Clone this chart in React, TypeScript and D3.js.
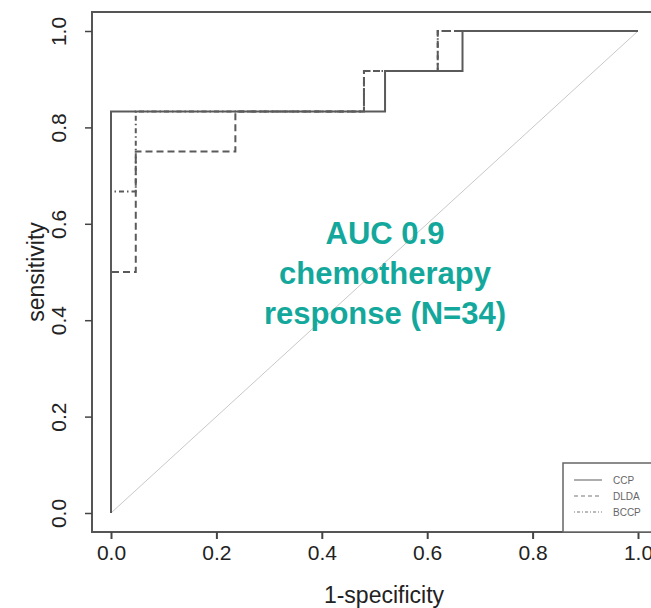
import React, { useEffect, useRef } from 'react';
import * as d3 from 'd3';

// ROC curves, [fpr, tpr] step points
const ccpPoints: [number, number][] = [
  [0, 0], [0, 0.833], [0.52, 0.833], [0.52, 0.917], [0.667, 0.917], [0.667, 1], [1, 1],
];
const dldaPoints: [number, number][] = [
  [0, 0], [0, 0.5], [0.047, 0.5], [0.047, 0.75], [0.236, 0.75], [0.236, 0.833],
  [0.48, 0.833], [0.48, 0.917], [0.62, 0.917], [0.62, 1], [1, 1],
];
const bccpPoints: [number, number][] = [
  [0, 0], [0, 0.667], [0.047, 0.667], [0.047, 0.833], [0.48, 0.833], [0.48, 0.917],
  [0.62, 0.917], [0.62, 1], [1, 1],
];
const seriesNames = ['CCP', 'DLDA', 'BCCP'];
const tickValues = [0, 0.2, 0.4, 0.6, 0.8, 1.0];
const annotation = ['AUC 0.9', 'chemotherapy', 'response (N=34)'];

export default function App() {
  const ref = useRef<SVGSVGElement>(null);

  useEffect(() => {
    document.body.style.margin = '0';
    if (!ref.current) return;
    const svg = d3.select(ref.current);
    svg.selectAll('*').remove();

    const font = "'Liberation Sans', Arial, sans-serif";
    const x = d3.scaleLinear().domain([0, 1]).range([111, 638]);
    const y = d3.scaleLinear().domain([0, 1]).range([513, 31]);
    const box = { left: 92, top: 12, right: 660, bottom: 532 };

    // diagonal
    svg.append('line')
      .attr('x1', x(0)).attr('y1', y(0)).attr('x2', x(1)).attr('y2', y(1))
      .attr('stroke', '#c8c8c8').attr('stroke-width', 1);

    // annotation
    annotation.forEach((t, i) => {
      svg.append('text')
        .attr('x', 385)
        .attr('y', 244 + i * 40)
        .attr('text-anchor', 'middle')
        .attr('fill', '#13a89b')
        .attr('font-family', font)
        .attr('font-weight', 'bold')
        .attr('font-size', '31px')
        .text(t);
    });

    const line = d3.line<[number, number]>().x(d => x(d[0])).y(d => y(d[1]));
    const styles = [
      { data: ccpPoints, dash: null },
      { data: dldaPoints, dash: '7,4' },
      { data: bccpPoints, dash: '1.5,3,5,3' },
    ];
    styles.slice().reverse().forEach(s => {
      svg.append('path')
        .datum(s.data)
        .attr('d', line)
        .attr('fill', 'none')
        .attr('stroke', '#5a5a5a')
        .attr('stroke-width', 2)
        .attr('stroke-dasharray', s.dash);
    });

    // plot box
    svg.append('rect')
      .attr('x', box.left).attr('y', box.top)
      .attr('width', box.right - box.left).attr('height', box.bottom - box.top)
      .attr('fill', 'none').attr('stroke', '#555').attr('stroke-width', 2);

    // x axis
    const xAxis = svg.append('g').attr('transform', `translate(0,${box.bottom})`)
      .call(d3.axisBottom(x).tickValues(tickValues).tickFormat(d3.format('.1f')).tickSize(7).tickPadding(6))
      .call(g => g.select('.domain').remove());
    xAxis.selectAll('line').attr('stroke', '#444').attr('stroke-width', 2);
    xAxis.selectAll('text').attr('fill', '#222').attr('font-size', '21px').attr('font-family', font);

    // y axis
    const yAxis = svg.append('g').attr('transform', `translate(${box.left},0)`)
      .call(d3.axisLeft(y).tickValues(tickValues).tickFormat(d3.format('.1f')).tickSize(7).tickPadding(0))
      .call(g => g.select('.domain').remove());
    yAxis.selectAll('line').attr('stroke', '#444').attr('stroke-width', 1.5);
    yAxis.selectAll('text')
      .attr('fill', '#222').attr('font-size', '21px').attr('font-family', font)
      .attr('x', null).attr('dy', null)
      .attr('text-anchor', 'middle')
      .attr('transform', 'translate(-26,0) rotate(-90)');

    // axis titles
    svg.append('text')
      .attr('x', 384).attr('y', 603)
      .attr('text-anchor', 'middle')
      .attr('fill', '#222').attr('font-size', '23px').attr('font-family', font)
      .text('1-specificity');
    svg.append('text')
      .attr('transform', 'translate(44,272) rotate(-90)')
      .attr('text-anchor', 'middle')
      .attr('fill', '#222').attr('font-size', '23px').attr('font-family', font)
      .text('sensitivity');

    // legend
    const lg = svg.append('g').attr('transform', 'translate(563,463)');
    lg.append('rect')
      .attr('x', 0).attr('y', 0).attr('width', 120).attr('height', 69)
      .attr('fill', 'white').attr('stroke', '#666').attr('stroke-width', 1.5);
    seriesNames.forEach((name, i) => {
      const ly = 17 + i * 16;
      lg.append('line')
        .attr('x1', 11).attr('x2', 39).attr('y1', ly).attr('y2', ly)
        .attr('stroke', '#777').attr('stroke-width', 1.2)
        .attr('stroke-dasharray', styles[i].dash ? (i === 1 ? '4,3' : '1,2,3,2') : null);
      lg.append('text')
        .attr('x', 50).attr('y', ly + 4)
        .attr('fill', '#666').attr('font-size', '10px').attr('font-family', font)
        .text(name);
    });
  }, []);

  return <svg ref={ref} width={651} height={608} style={{ display: 'block', background: 'white' }} />;
}
